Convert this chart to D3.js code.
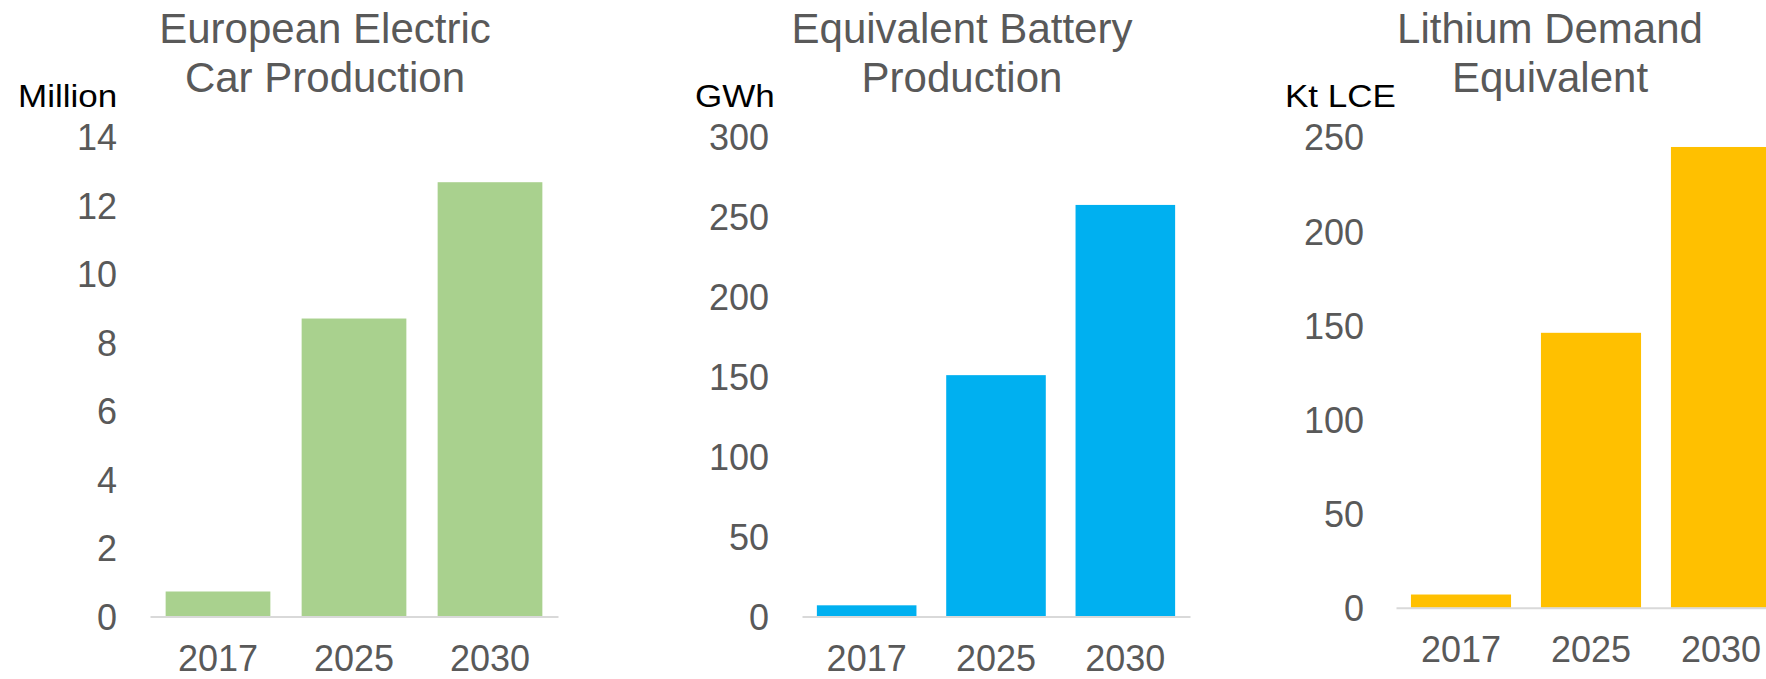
<!DOCTYPE html>
<html>
<head>
<meta charset="utf-8">
<script src="https://cdn.jsdelivr.net/npm/d3@7"></script>
<style>
  html, body { margin: 0; padding: 0; background: #fff; }
  svg { display: block; font-family: "Liberation Sans", Arial, sans-serif; }
</style>
</head>
<body>
<div id="chart"></div>
<script>
// data
const years = ["2017", "2025", "2030"];
const carProduction = [0.73, 8.7, 12.68];     // million
const batteryProduction = [7, 151, 257.5];    // GWh
const lithiumDemand = [7, 146, 244.7];        // kt LCE

const carTicks = [0, 2, 4, 6, 8, 10, 12, 14];
const batteryTicks = [0, 50, 100, 150, 200, 250, 300];
const lithiumTicks = [0, 50, 100, 150, 200, 250];

const W = 1766, H = 679;
const svg = d3.select("#chart").append("svg")
    .attr("width", W)
    .attr("height", H);

// one panel = title, unit label, y ticks, baseline, bars, year labels
function makePanel(values, ticks, opts) {
    const g = svg.append("g");

    const x = d3.scaleBand()
        .domain(years)
        .range([opts.x0, opts.x1])
        .paddingInner(0.23)
        .paddingOuter(0.115);

    const y = d3.scaleLinear()
        .domain([0, d3.max(ticks)])
        .range([opts.y0, 137]);

    // title, two lines
    const title = g.append("text")
        .attr("text-anchor", "middle")
        .style("font-size", "42px")
        .style("fill", "#595959");
    opts.title.forEach(function (line, i) {
        title.append("tspan")
            .attr("x", opts.titleX)
            .attr("y", 43 + i * 48.5)
            .text(line);
    });

    // unit label, a little stretched like the original
    g.append("text")
        .attr("transform", "translate(" + opts.unitX + ",107) scale(1.13,1)")
        .style("font-size", "31px")
        .style("fill", "#000")
        .text(opts.unit);

    // y axis: labels only
    const yAxis = g.append("g")
        .attr("transform", "translate(" + opts.tickRight + ",0)")
        .call(d3.axisLeft(y).tickValues(ticks).tickSize(0).tickPadding(0));
    yAxis.select(".domain").remove();
    yAxis.selectAll("text")
        .attr("dy", "0.36em")
        .style("font-size", "36px")
        .style("font-family", "Liberation Sans, Arial, sans-serif")
        .style("fill", "#595959");

    // bars
    g.selectAll("rect.bar")
        .data(values)
        .enter()
        .append("rect")
        .attr("class", "bar")
        .attr("x", function (d, i) { return x(years[i]); })
        .attr("width", x.bandwidth())
        .attr("y", function (d) { return y(d); })
        .attr("height", function (d) { return y(0) - y(d); })
        .style("fill", opts.color);

    // x axis: baseline + year labels
    const xAxis = g.append("g")
        .attr("transform", "translate(0," + y(0) + ")")
        .call(d3.axisBottom(x).tickSize(0).tickSizeOuter(0));
    xAxis.select(".domain")
        .style("stroke", "#d9d9d9")
        .style("stroke-width", 2);
    xAxis.selectAll("text")
        .attr("y", 54)
        .attr("dy", 0)
        .style("font-size", "36px")
        .style("font-family", "Liberation Sans, Arial, sans-serif")
        .style("fill", "#595959");
}

makePanel(carProduction, carTicks, {
    x0: 150, x1: 558, y0: 616.5, tickRight: 117,
    title: ["European Electric", "Car Production"], titleX: 325,
    unit: "Million", unitX: 18, color: "#A9D18E"
});

makePanel(batteryProduction, batteryTicks, {
    x0: 802, x1: 1190, y0: 616.5, tickRight: 769,
    title: ["Equivalent Battery", "Production"], titleX: 962,
    unit: "GWh", unitX: 695, color: "#00B0F0"
});

makePanel(lithiumDemand, lithiumTicks, {
    x0: 1396, x1: 1786, y0: 607.7, tickRight: 1364,
    title: ["Lithium Demand", "Equivalent"], titleX: 1550,
    unit: "Kt LCE", unitX: 1285, color: "#FFC000"
});
</script>
</body>
</html>
